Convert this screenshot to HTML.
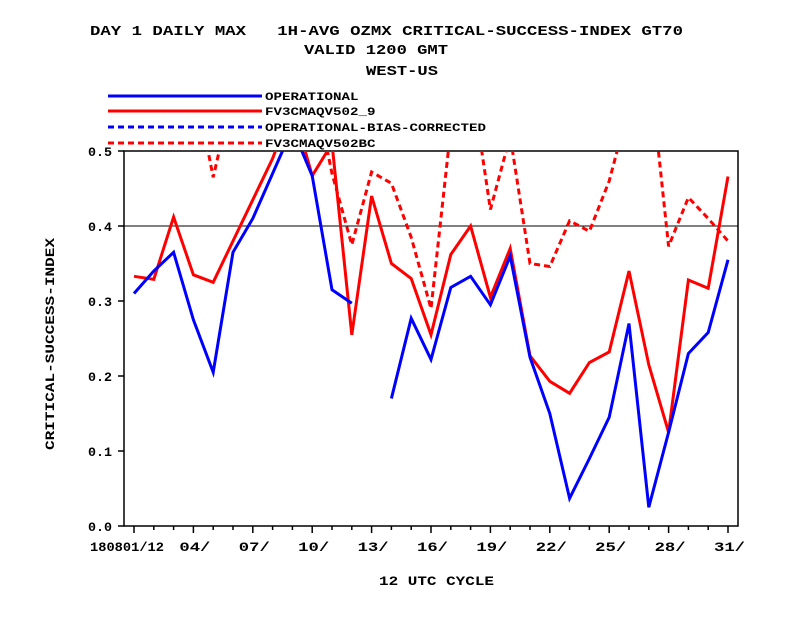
<!DOCTYPE html>
<html><head><meta charset="utf-8"><style>
html,body{margin:0;padding:0;background:#fff;}
svg text{font-family:"Liberation Mono",monospace;font-weight:bold;fill:#000;white-space:pre;}
</style></head><body>
<svg id="chart" width="792" height="612" xmlns="http://www.w3.org/2000/svg">
<text x="90" y="35" font-size="14" textLength="593" lengthAdjust="spacingAndGlyphs" xml:space="preserve">DAY 1 DAILY MAX   1H-AVG OZMX CRITICAL-SUCCESS-INDEX GT70</text>
<text x="304" y="54" font-size="14" textLength="144" lengthAdjust="spacingAndGlyphs">VALID 1200 GMT</text>
<text x="366" y="75" font-size="14" textLength="72" lengthAdjust="spacingAndGlyphs">WEST-US</text>
<g id="legend"></g>
<defs><clipPath id="plotclip"><rect x="124" y="151" width="614" height="376"/></clipPath></defs>
<g id="axes"></g>
<g id="series" clip-path="url(#plotclip)"></g>
<text transform="translate(54,344) rotate(-90)" font-size="13" text-anchor="middle" textLength="212" lengthAdjust="spacingAndGlyphs">CRITICAL-SUCCESS-INDEX</text>
<text x="379" y="585" font-size="13" textLength="115" lengthAdjust="spacingAndGlyphs">12 UTC CYCLE</text>
</svg>
<script>
const days = [1,2,3,4,5,6,7,8,9,10,11,12,13,14,15,16,17,18,19,20,21,22,23,24,25,26,27,28,29,30,31];
const operational = [0.31,0.34,0.365,0.275,0.205,0.365,0.41,0.47,0.53,0.467,0.315,0.297,null,0.17,0.277,0.222,0.318,0.333,0.295,0.36,0.225,0.15,0.037,0.09,0.145,0.27,0.025,0.125,0.23,0.258,0.355];
const fv3 = [0.333,0.329,0.412,0.335,0.325,0.38,0.435,0.49,0.56,0.467,0.51,0.255,0.44,0.35,0.33,0.255,0.362,0.40,0.305,0.37,0.227,0.193,0.177,0.218,0.232,0.34,0.215,0.125,0.328,0.317,0.466];
const opBC = [];
const fv3BC = [0.6,0.6,0.6,0.6,0.465,0.58,0.6,0.6,0.6,0.6,0.47,0.375,0.472,0.457,0.385,0.29,0.53,0.6,0.422,0.52,0.35,0.346,0.407,0.393,0.46,0.56,0.62,0.373,0.438,0.41,0.38];
const yTicks = [0,0.1,0.2,0.3,0.4,0.5];
const yTickLabels = ["0.0","0.1","0.2","0.3","0.4","0.5"];
const xTickDays = [1,4,7,10,13,16,19,22,25,28,31];
const xTickLabels = ["180801/12","04/","07/","10/","13/","16/","19/","22/","25/","28/","31/"];
const NS="http://www.w3.org/2000/svg";
const X = d => 134 + (d-1)*19.8;
const Y = v => 526 - v*750;
function mk(tag, attrs, parent){const e=document.createElementNS(NS,tag);for(const k in attrs)e.setAttribute(k,attrs[k]);parent.appendChild(e);return e;}
const axes=document.getElementById('axes');
let r=mk('rect',{x:124,y:151,width:614,height:375,fill:'none',stroke:'#000','stroke-width':1.5},axes);


let g=mk('line',{x1:124,x2:738,y1:Y(0.4),y2:Y(0.4),stroke:'#000','stroke-width':1},axes);


yTicks.forEach((v,i)=>{
  const t=mk('line',{x1:118,x2:124,y1:Y(v),y2:Y(v),stroke:'#000','stroke-width':1.5},axes);
  
  
  const l=mk('text',{x:88,y:Y(v)+5,'font-size':13,textLength:24,lengthAdjust:'spacingAndGlyphs'},axes);
  l.textContent=yTickLabels[i];
  
  
});
days.forEach(d=>{
  const big=xTickDays.includes(d);
  const t=mk('line',{x1:X(d),x2:X(d),y1:526,y2:big?533:530,stroke:'#000','stroke-width':1.5},axes);
  
  
});
xTickDays.forEach((d,i)=>{
  const l=mk('text',{x:i==0?90:X(d)-14,y:551,'font-size':13,textLength:i==0?74:31,lengthAdjust:'spacingAndGlyphs'},axes);
  l.textContent=xTickLabels[i];
  
  
});
const series=document.getElementById('series');
function draw(vals,color,dash,name){
  let segs=[],cur=[];
  vals.forEach((v,i)=>{ if(v==null){ if(cur.length)segs.push(cur); cur=[]; } else cur.push(X(days[i]).toFixed(1)+','+Y(v).toFixed(1)); });
  if(cur.length)segs.push(cur);
  segs.forEach(s=>{
    const p=mk('polyline',{points:s.join(' '),fill:'none',stroke:color,'stroke-width':3,'stroke-linejoin':'miter'},series);
    if(dash)p.setAttribute('stroke-dasharray','6,4');
    
    
  });
}
draw(fv3BC,'#ff0000',true,'line-fv3cmaqv502bc');
draw(opBC,'#0000ff',true,'line-operational-bias-corrected');
draw(fv3,'#ff0000',false,'line-fv3cmaqv502-9');
draw(operational,'#0000ff',false,'line-operational');
const legend=document.getElementById('legend');
const leg=[["OPERATIONAL","#0000ff",false,96],["FV3CMAQV502_9","#ff0000",false,111],["OPERATIONAL-BIAS-CORRECTED","#0000ff",true,127],["FV3CMAQV502BC","#ff0000",true,143]];
leg.forEach(e=>{
  const ln=mk('line',{x1:108,x2:262,y1:e[3],y2:e[3],stroke:e[1],'stroke-width':3},legend);
  if(e[2])ln.setAttribute('stroke-dasharray','6,4');
  
  
  const t=mk('text',{x:265,y:e[3]+4,'font-size':11,textLength:e[0].length*8.5,lengthAdjust:'spacingAndGlyphs'},legend);
  t.textContent=e[0];
  
  
});
</script>
</body></html>
